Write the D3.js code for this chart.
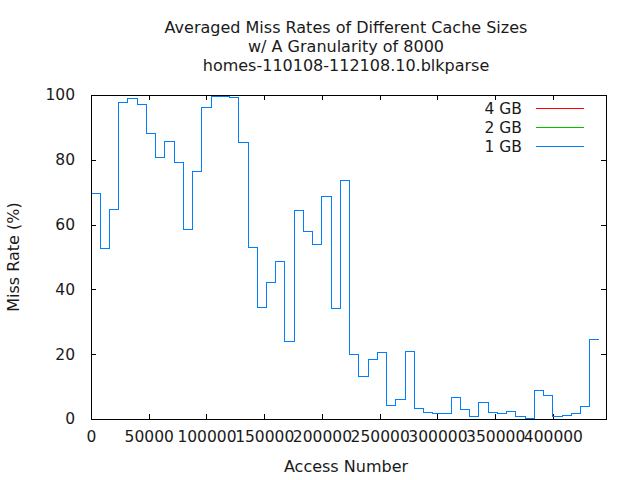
<!DOCTYPE html>
<html>
<head>
<meta charset="utf-8">
<script src="https://cdn.jsdelivr.net/npm/d3@7"></script>
<style>
  html, body { margin: 0; padding: 0; background: #fff; }
  svg { display: block; }
  text { font-family: "DejaVu Sans", sans-serif; fill: #1a1a1a; }
</style>
</head>
<body>
<svg id="chart" width="640" height="480"></svg>
<script>
const titleLines = ["Averaged Miss Rates of Different Cache Sizes", "w/ A Granularity of 8000", "homes-110108-112108.10.blkparse"];
const xLabel = "Access Number";
const yLabel = "Miss Rate (%)";
const granularity = 8000;
const xMax = 446000;
const xTicks = [0, 50000, 100000, 150000, 200000, 250000, 300000, 350000, 400000];
const yTicks = [0, 20, 40, 60, 80, 100];
const seriesNames = ["4 GB", "2 GB", "1 GB"];
const seriesColors = ["#ff0000", "#00c000", "#0080ff"];

const missRate1GB = [69.7, 52.7, 64.8, 97.8, 98.8, 97.2, 88.0, 80.8, 85.5, 79.3,
  58.6, 76.5, 96.0, 99.4, 99.4, 99.1, 85.2, 53.0, 34.5, 42.2,
  48.7, 24.0, 64.2, 57.8, 54.0, 68.8, 34.2, 73.7, 20.0, 13.2,
  18.5, 20.6, 4.2, 6.1, 20.9, 3.3, 2.1, 1.8, 1.8, 6.7,
  3.0, 0.9, 5.2, 2.1, 1.8, 2.4, 0.9, 0.3, 8.9, 7.3,
  0.9, 1.2, 1.8, 4.0, 24.6];
const missRate2GB = missRate1GB.slice();
const missRate4GB = missRate1GB.slice();
const seriesValues = [missRate4GB, missRate2GB, missRate1GB];

const svg = d3.select("#chart");
const pLeft = 91, pRight = 606, pTop = 95, pBottom = 419;
const fs = "15.5px";

const x = d3.scaleLinear().domain([0, xMax]).range([pLeft, pRight]);
const y = d3.scaleLinear().domain([0, 100]).range([pBottom, pTop]);

// Title
const title = svg.append("text").attr("text-anchor", "middle").style("font-size", "16px");
titleLines.forEach((t, i) => {
  title.append("tspan").attr("x", 346).attr("y", 33 + i * 19).text(t);
});

// Axes (ticks inward, mirrored)
const tickLen = 5;
const axisB = d3.axisBottom(x).tickValues(xTicks).tickFormat(d3.format("d")).tickSizeInner(-tickLen).tickSizeOuter(0).tickPadding(12);
const axisT = d3.axisTop(x).tickValues(xTicks).tickFormat("").tickSizeInner(-tickLen).tickSizeOuter(0);
const axisL = d3.axisLeft(y).tickValues(yTicks).tickFormat(d3.format("d")).tickSizeInner(-tickLen).tickSizeOuter(0).tickPadding(16);
const axisR = d3.axisRight(y).tickValues(yTicks).tickFormat("").tickSizeInner(-tickLen).tickSizeOuter(0);

function styleAxis(g) {
  g.select(".domain").remove();
  g.selectAll(".tick line").attr("stroke", "#000").attr("stroke-width", 1).attr("shape-rendering", "crispEdges");
  g.selectAll(".tick text").style("font-size", fs).attr("fill", "#1a1a1a").style("font-family", "DejaVu Sans, sans-serif");
}
svg.append("g").attr("transform", `translate(0,${pBottom})`).call(axisB).call(styleAxis);
svg.append("g").attr("transform", `translate(0,${pTop})`).call(axisT).call(styleAxis);
svg.append("g").attr("transform", `translate(${pLeft},0)`).call(axisL).call(styleAxis);
svg.append("g").attr("transform", `translate(${pRight},0)`).call(axisR).call(styleAxis);

// Data lines (steps)
const line = d3.line().x(d => x(d[0])).y(d => y(d[1])).curve(d3.curveStepAfter);
seriesValues.forEach((vals, si) => {
  const pts = vals.map((v, i) => [i * granularity, v]);
  pts.push([vals.length * granularity, vals[vals.length - 1]]);
  svg.append("path").datum(pts).attr("d", line)
    .attr("fill", "none").attr("stroke", seriesColors[si]).attr("stroke-width", 1)
    .attr("shape-rendering", "crispEdges");
});

// Frame
svg.append("rect").attr("x", pLeft).attr("y", pTop).attr("width", pRight - pLeft).attr("height", pBottom - pTop)
  .attr("fill", "none").attr("stroke", "#000").attr("stroke-width", 1).attr("shape-rendering", "crispEdges");

// Legend
seriesNames.forEach((n, i) => {
  const yy = 108 + i * 19;
  svg.append("text").attr("x", 522).attr("y", yy + 5.5).attr("text-anchor", "end").style("font-size", fs).text(n);
  svg.append("line").attr("x1", 536).attr("x2", 584).attr("y1", yy + 0.5).attr("y2", yy + 0.5)
    .attr("stroke", seriesColors[i]).attr("stroke-width", 1).attr("shape-rendering", "crispEdges");
});

// Axis labels
svg.append("text").attr("x", 346).attr("y", 472).attr("text-anchor", "middle").style("font-size", "16px").text(xLabel);
svg.append("text").attr("transform", "translate(19,257) rotate(-90)").attr("text-anchor", "middle").style("font-size", "16px").text(yLabel);
</script>
</body>
</html>
